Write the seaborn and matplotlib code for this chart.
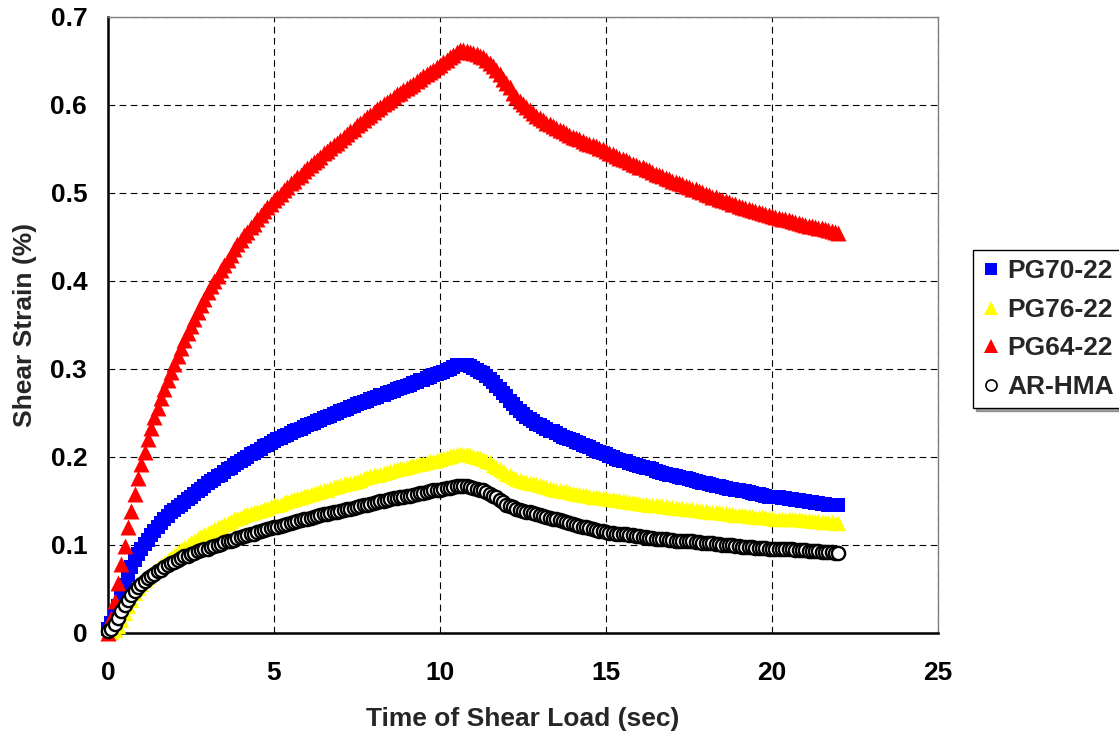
import matplotlib
matplotlib.use("Agg")
import matplotlib.pyplot as plt
from matplotlib.lines import Line2D
import seaborn as sns
import pandas as pd

# sample times (sec), one row per second
TIME = [0.0, 0.1, 0.2, 0.3, 0.4, 0.5, 0.6, 0.7, 0.8, 0.9,
        1.0, 1.1, 1.2, 1.3, 1.4, 1.5, 1.6, 1.7, 1.8, 1.9,
        2.0, 2.1, 2.2, 2.3, 2.4, 2.5, 2.6, 2.7, 2.8, 2.9,
        3.0, 3.1, 3.2, 3.3, 3.4, 3.5, 3.6, 3.7, 3.8, 3.9,
        4.0, 4.1, 4.2, 4.3, 4.4, 4.5, 4.6, 4.7, 4.8, 4.9,
        5.0, 5.1, 5.2, 5.3, 5.4, 5.5, 5.6, 5.7, 5.8, 5.9,
        6.0, 6.1, 6.2, 6.3, 6.4, 6.5, 6.6, 6.7, 6.8, 6.9,
        7.0, 7.1, 7.2, 7.3, 7.4, 7.5, 7.6, 7.7, 7.8, 7.9,
        8.0, 8.1, 8.2, 8.3, 8.4, 8.5, 8.6, 8.7, 8.8, 8.9,
        9.0, 9.1, 9.2, 9.3, 9.4, 9.5, 9.6, 9.7, 9.8, 9.9,
        10.0, 10.1, 10.2, 10.3, 10.4, 10.5, 10.6, 10.7, 10.8, 10.9,
        11.0, 11.1, 11.2, 11.3, 11.4, 11.5, 11.6, 11.7, 11.8, 11.9,
        12.0, 12.1, 12.2, 12.3, 12.4, 12.5, 12.6, 12.7, 12.8, 12.9,
        13.0, 13.1, 13.2, 13.3, 13.4, 13.5, 13.6, 13.7, 13.8, 13.9,
        14.0, 14.1, 14.2, 14.3, 14.4, 14.5, 14.6, 14.7, 14.8, 14.9,
        15.0, 15.1, 15.2, 15.3, 15.4, 15.5, 15.6, 15.7, 15.8, 15.9,
        16.0, 16.1, 16.2, 16.3, 16.4, 16.5, 16.6, 16.7, 16.8, 16.9,
        17.0, 17.1, 17.2, 17.3, 17.4, 17.5, 17.6, 17.7, 17.8, 17.9,
        18.0, 18.1, 18.2, 18.3, 18.4, 18.5, 18.6, 18.7, 18.8, 18.9,
        19.0, 19.1, 19.2, 19.3, 19.4, 19.5, 19.6, 19.7, 19.8, 19.9,
        20.0, 20.1, 20.2, 20.3, 20.4, 20.5, 20.6, 20.7, 20.8, 20.9,
        21.0, 21.1, 21.2, 21.3, 21.4, 21.5, 21.6, 21.7, 21.8, 21.9,
        22.0]

PG70_22 = [0.005, 0.011, 0.020, 0.031, 0.043, 0.055, 0.066, 0.075, 0.083, 0.090,
           0.096, 0.101, 0.106, 0.111, 0.116, 0.121, 0.125, 0.129, 0.133, 0.137,
           0.140, 0.143, 0.146, 0.149, 0.152, 0.155, 0.158, 0.161, 0.164, 0.167,
           0.170, 0.173, 0.175, 0.178, 0.180, 0.183, 0.186, 0.188, 0.191, 0.193,
           0.196, 0.198, 0.200, 0.203, 0.205, 0.207, 0.209, 0.212, 0.214, 0.216,
           0.218, 0.220, 0.222, 0.224, 0.225, 0.227, 0.229, 0.231, 0.232, 0.234,
           0.236, 0.237, 0.239, 0.241, 0.242, 0.244, 0.246, 0.247, 0.249, 0.250,
           0.252, 0.253, 0.255, 0.257, 0.258, 0.260, 0.261, 0.263, 0.264, 0.266,
           0.267, 0.268, 0.270, 0.271, 0.273, 0.274, 0.275, 0.277, 0.278, 0.280,
           0.281, 0.282, 0.284, 0.285, 0.287, 0.288, 0.290, 0.291, 0.293, 0.294,
           0.296, 0.297, 0.299, 0.300, 0.302, 0.304, 0.305, 0.305, 0.304, 0.303,
           0.301, 0.299, 0.297, 0.295, 0.292, 0.289, 0.285, 0.281, 0.277, 0.273,
           0.269, 0.264, 0.260, 0.256, 0.252, 0.249, 0.246, 0.243, 0.241, 0.238,
           0.236, 0.234, 0.232, 0.230, 0.229, 0.227, 0.225, 0.223, 0.222, 0.220,
           0.219, 0.217, 0.216, 0.214, 0.212, 0.211, 0.209, 0.207, 0.206, 0.204,
           0.203, 0.201, 0.200, 0.198, 0.197, 0.196, 0.195, 0.193, 0.192, 0.191,
           0.190, 0.189, 0.188, 0.187, 0.186, 0.184, 0.183, 0.182, 0.181, 0.180,
           0.179, 0.178, 0.177, 0.176, 0.176, 0.175, 0.174, 0.173, 0.172, 0.171,
           0.170, 0.169, 0.168, 0.167, 0.167, 0.166, 0.165, 0.164, 0.164, 0.163,
           0.162, 0.161, 0.161, 0.160, 0.159, 0.158, 0.158, 0.157, 0.156, 0.155,
           0.155, 0.154, 0.154, 0.153, 0.153, 0.152, 0.152, 0.151, 0.151, 0.150,
           0.150, 0.149, 0.149, 0.148, 0.148, 0.147, 0.147, 0.146, 0.146, 0.145,
           0.145]

PG76_22 = [0.000, 0.001, 0.003, 0.008, 0.015, 0.023, 0.031, 0.038, 0.045, 0.051,
           0.056, 0.060, 0.064, 0.068, 0.071, 0.074, 0.077, 0.080, 0.083, 0.086,
           0.089, 0.092, 0.095, 0.098, 0.100, 0.103, 0.105, 0.108, 0.110, 0.112,
           0.114, 0.116, 0.118, 0.120, 0.122, 0.124, 0.125, 0.127, 0.129, 0.131,
           0.132, 0.134, 0.135, 0.136, 0.137, 0.139, 0.140, 0.141, 0.142, 0.144,
           0.145, 0.146, 0.147, 0.149, 0.150, 0.151, 0.152, 0.153, 0.154, 0.156,
           0.157, 0.158, 0.159, 0.160, 0.161, 0.162, 0.163, 0.165, 0.166, 0.167,
           0.168, 0.169, 0.170, 0.171, 0.172, 0.173, 0.174, 0.176, 0.177, 0.178,
           0.179, 0.180, 0.181, 0.182, 0.183, 0.184, 0.185, 0.186, 0.187, 0.188,
           0.189, 0.190, 0.191, 0.192, 0.192, 0.193, 0.194, 0.195, 0.196, 0.197,
           0.198, 0.199, 0.200, 0.201, 0.202, 0.203, 0.203, 0.203, 0.203, 0.202,
           0.201, 0.200, 0.199, 0.198, 0.196, 0.194, 0.191, 0.189, 0.186, 0.184,
           0.181, 0.179, 0.177, 0.175, 0.174, 0.173, 0.172, 0.171, 0.170, 0.169,
           0.168, 0.167, 0.166, 0.165, 0.164, 0.163, 0.162, 0.161, 0.161, 0.160,
           0.159, 0.158, 0.158, 0.157, 0.157, 0.156, 0.155, 0.155, 0.154, 0.153,
           0.153, 0.152, 0.152, 0.151, 0.151, 0.150, 0.150, 0.149, 0.149, 0.148,
           0.148, 0.147, 0.147, 0.146, 0.146, 0.145, 0.145, 0.144, 0.144, 0.143,
           0.143, 0.142, 0.142, 0.142, 0.141, 0.141, 0.141, 0.140, 0.140, 0.139,
           0.139, 0.138, 0.138, 0.137, 0.137, 0.136, 0.136, 0.135, 0.135, 0.134,
           0.134, 0.134, 0.134, 0.133, 0.133, 0.132, 0.132, 0.132, 0.132, 0.131,
           0.131, 0.130, 0.130, 0.130, 0.130, 0.129, 0.129, 0.129, 0.129, 0.128,
           0.128, 0.128, 0.127, 0.127, 0.127, 0.126, 0.126, 0.126, 0.126, 0.125,
           0.125]

PG64_22 = [0.000, 0.017, 0.036, 0.057, 0.078, 0.099, 0.120, 0.139, 0.158, 0.176,
           0.192, 0.206, 0.220, 0.233, 0.245, 0.256, 0.267, 0.277, 0.287, 0.297,
           0.306, 0.315, 0.324, 0.333, 0.341, 0.349, 0.357, 0.365, 0.373, 0.380,
           0.387, 0.394, 0.400, 0.406, 0.412, 0.418, 0.424, 0.430, 0.436, 0.442,
           0.447, 0.452, 0.456, 0.461, 0.465, 0.470, 0.475, 0.480, 0.484, 0.488,
           0.492, 0.496, 0.499, 0.503, 0.507, 0.511, 0.514, 0.518, 0.521, 0.525,
           0.528, 0.532, 0.535, 0.538, 0.541, 0.545, 0.548, 0.551, 0.554, 0.557,
           0.560, 0.564, 0.567, 0.570, 0.573, 0.577, 0.580, 0.583, 0.586, 0.589,
           0.592, 0.595, 0.598, 0.601, 0.603, 0.606, 0.609, 0.612, 0.614, 0.617,
           0.619, 0.622, 0.624, 0.627, 0.630, 0.633, 0.635, 0.638, 0.640, 0.643,
           0.646, 0.649, 0.651, 0.654, 0.657, 0.660, 0.662, 0.662, 0.661, 0.660,
           0.659, 0.658, 0.656, 0.654, 0.651, 0.648, 0.644, 0.640, 0.635, 0.630,
           0.625, 0.620, 0.614, 0.609, 0.605, 0.601, 0.598, 0.594, 0.591, 0.588,
           0.585, 0.583, 0.580, 0.578, 0.576, 0.574, 0.572, 0.570, 0.568, 0.566,
           0.564, 0.563, 0.561, 0.559, 0.557, 0.556, 0.554, 0.553, 0.551, 0.550,
           0.548, 0.546, 0.544, 0.542, 0.540, 0.539, 0.537, 0.535, 0.533, 0.532,
           0.530, 0.529, 0.527, 0.526, 0.524, 0.522, 0.520, 0.519, 0.517, 0.516,
           0.514, 0.513, 0.511, 0.510, 0.508, 0.507, 0.505, 0.504, 0.502, 0.501,
           0.499, 0.498, 0.496, 0.495, 0.493, 0.492, 0.491, 0.490, 0.488, 0.487,
           0.485, 0.484, 0.483, 0.482, 0.481, 0.480, 0.478, 0.477, 0.476, 0.475,
           0.474, 0.473, 0.472, 0.471, 0.470, 0.469, 0.468, 0.467, 0.466, 0.465,
           0.464, 0.463, 0.462, 0.461, 0.460, 0.460, 0.459, 0.458, 0.457, 0.456,
           0.455]

AR_HMA = [0.002, 0.005, 0.010, 0.017, 0.025, 0.032, 0.038, 0.043, 0.048, 0.052,
          0.056, 0.059, 0.062, 0.065, 0.067, 0.070, 0.072, 0.075, 0.077, 0.079,
          0.081, 0.083, 0.085, 0.087, 0.088, 0.090, 0.091, 0.093, 0.094, 0.095,
          0.096, 0.098, 0.099, 0.100, 0.101, 0.103, 0.104, 0.105, 0.106, 0.108,
          0.109, 0.110, 0.111, 0.112, 0.113, 0.115, 0.116, 0.117, 0.118, 0.119,
          0.120, 0.121, 0.122, 0.123, 0.124, 0.125, 0.126, 0.127, 0.128, 0.129,
          0.130, 0.131, 0.132, 0.133, 0.134, 0.135, 0.135, 0.136, 0.137, 0.138,
          0.139, 0.140, 0.141, 0.141, 0.142, 0.143, 0.144, 0.145, 0.146, 0.147,
          0.148, 0.149, 0.150, 0.150, 0.151, 0.152, 0.153, 0.153, 0.154, 0.155,
          0.156, 0.156, 0.157, 0.158, 0.159, 0.159, 0.160, 0.161, 0.162, 0.162,
          0.163, 0.164, 0.165, 0.165, 0.166, 0.167, 0.167, 0.167, 0.167, 0.166,
          0.165, 0.164, 0.163, 0.162, 0.160, 0.158, 0.156, 0.154, 0.151, 0.149,
          0.146, 0.144, 0.143, 0.141, 0.140, 0.139, 0.138, 0.137, 0.136, 0.135,
          0.134, 0.133, 0.132, 0.131, 0.130, 0.129, 0.128, 0.127, 0.126, 0.125,
          0.124, 0.123, 0.122, 0.121, 0.120, 0.119, 0.118, 0.117, 0.116, 0.116,
          0.115, 0.114, 0.114, 0.113, 0.113, 0.112, 0.112, 0.111, 0.111, 0.110,
          0.110, 0.109, 0.109, 0.108, 0.108, 0.107, 0.107, 0.107, 0.107, 0.106,
          0.106, 0.105, 0.105, 0.104, 0.104, 0.104, 0.104, 0.103, 0.103, 0.102,
          0.102, 0.102, 0.102, 0.101, 0.101, 0.100, 0.100, 0.100, 0.100, 0.099,
          0.099, 0.098, 0.098, 0.098, 0.098, 0.097, 0.097, 0.097, 0.097, 0.096,
          0.096, 0.096, 0.096, 0.095, 0.095, 0.095, 0.095, 0.094, 0.094, 0.094,
          0.094, 0.093, 0.093, 0.093, 0.093, 0.092, 0.092, 0.092, 0.092, 0.091,
          0.091]

SERIES = ["PG70-22", "PG76-22", "PG64-22", "AR-HMA"]
VALUES = [PG70_22, PG76_22, PG64_22, AR_HMA]
X_TICKS = [0, 5, 10, 15, 20, 25]
X_TICK_LABELS = ["0", "5", "10", "15", "20", "25"]
Y_TICKS = [0, 0.1, 0.2, 0.3, 0.4, 0.5, 0.6, 0.7]
Y_TICK_LABELS = ["0", "0.1", "0.2", "0.3", "0.4", "0.5", "0.6", "0.7"]
X_LABEL = "Time of Shear Load (sec)"
Y_LABEL = "Shear Strain (%)"

STYLES = {
    "PG70-22": dict(marker="s", color="#0000FF", edge="#0000FF", size=10.5, lw=0.0),
    "PG76-22": dict(marker="^", color="#FFFF00", edge="#FFFF00", size=11.0, lw=0.0),
    "PG64-22": dict(marker="^", color="#FF0000", edge="#FF0000", size=11.5, lw=0.0),
    "AR-HMA": dict(marker="o", color="white", edge="black", size=9.5, lw=1.7),
}
FS = 19

sns.set_style("white")
plt.rcParams["font.family"] = ["Liberation Sans", "DejaVu Sans"]
plt.rcParams["font.weight"] = "bold"

df = pd.concat(
    [pd.DataFrame({"time": TIME, "strain": v, "series": s}) for s, v in zip(SERIES, VALUES)],
    ignore_index=True,
)

fig = plt.figure(figsize=(11.19, 7.36), dpi=100)
ax = fig.add_axes([108 / 1119, 1 - 633 / 736, (938 - 108) / 1119, (633 - 17) / 736])

for s in SERIES:
    st = STYLES[s]
    sub = df[df["series"] == s]
    sns.scatterplot(data=sub, x="time", y="strain", ax=ax, marker=st["marker"],
                    s=st["size"] ** 2, color=st["color"], edgecolor=st["edge"],
                    linewidth=st["lw"], clip_on=False, legend=False, zorder=3)

ax.set_xlim(0, 25)
ax.set_ylim(0, 0.7)
ax.set_xticks(X_TICKS)
ax.set_xticklabels(X_TICK_LABELS)
ax.set_yticks(Y_TICKS)
ax.set_yticklabels(Y_TICK_LABELS)
ax.set_xticks([i for i in range(0, 26)], minor=True)
ax.set_yticks([i * 0.02 for i in range(0, 36)], minor=True)

ax.tick_params(axis="both", which="major", direction="inout", length=12, width=1.0,
               labelsize=FS, colors="black")
ax.tick_params(axis="x", which="major", pad=14)
ax.tick_params(axis="y", which="major", pad=9)
ax.tick_params(axis="both", which="minor", direction="in", length=4.5, width=1.0, colors="black")
for lab in ax.get_xticklabels() + ax.get_yticklabels():
    lab.set_fontweight("bold")

ax.grid(True, which="major", color="black", linestyle=(0, (6, 4)), linewidth=0.8)
ax.set_axisbelow(True)

for side in ["left", "bottom"]:
    ax.spines[side].set_color("black")
    ax.spines[side].set_linewidth(1.8)
for side in ["top", "right"]:
    ax.spines[side].set_color("#808080")
    ax.spines[side].set_linewidth(1.0)

ax.set_xlabel(X_LABEL, fontsize=FS, fontweight="bold", labelpad=16)
ax.set_ylabel(Y_LABEL, fontsize=FS, fontweight="bold", labelpad=10)

handles = []
for s in SERIES:
    st = STYLES[s]
    handles.append(Line2D([], [], linestyle="none", marker=st["marker"], markersize=st["size"] - 1.5,
                          markerfacecolor=st["color"], markeredgecolor=st["edge"],
                          markeredgewidth=min(st["lw"], 1.2)))
leg = fig.legend(handles, SERIES, loc="upper left", bbox_to_anchor=(973 / 1119, 1 - 250 / 736),
                 bbox_transform=fig.transFigure, frameon=True, fancybox=False, shadow=True,
                 handlelength=0.7, handletextpad=0.25, borderpad=0.35,
                 labelspacing=0.55, borderaxespad=0.0, prop={"weight": "bold", "size": FS})
leg.get_frame().set_edgecolor("black")
leg.get_frame().set_linewidth(1.0)

fig.savefig("out.png", dpi=100, facecolor="white")
